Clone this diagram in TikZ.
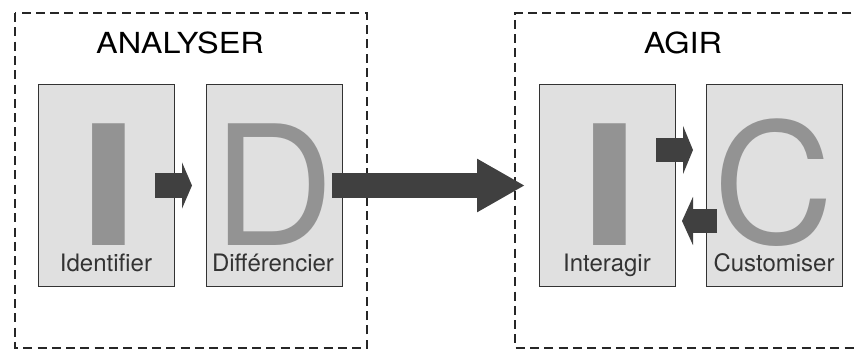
\documentclass[tikz,border=0pt]{standalone}
\usepackage{fontspec}
\setmainfont{TeX Gyre Heros}
\usetikzlibrary{arrows.meta}
\definecolor{boxfill}{HTML}{E0E0E0}
\definecolor{lettergray}{HTML}{939393}
\definecolor{arrowgray}{HTML}{404040}
\begin{document}
\begin{tikzpicture}[x=1pt,y=-1pt,
  group/.style={draw=black!85, dash pattern=on 9pt off 5.3pt, line width=1.8pt},
  stage/.style={draw=black!80, fill=boxfill, line width=1.3pt, minimum width=136pt, minimum height=202pt, inner sep=0pt, anchor=north west},
  bigletter/.style={text=lettergray, font=\fontsize{167}{167}\selectfont, inner sep=0pt, anchor=base, text depth=0pt},
  lab/.style={text=black!80, font=\fontsize{24}{24}\selectfont, inner sep=0pt, anchor=base, text height=17pt},
  title/.style={text=black, font=\fontsize{29}{29}\selectfont, inner sep=0pt, anchor=base},
  blockarrow/.style={draw=arrowgray, line width=#1},
]
\useasboundingbox (0,0) rectangle (857,351);
% groups
\draw[group] (15,13) rectangle (367,348);
\draw[group] (880,13) -- (515,13) -- (515,348) -- (880,348);
\node[title] (tA) at (180,53) {\scalebox{1.12}[1]{ANALYSER}};
\node[title] (tB) at (683,53) {\scalebox{1.12}[1]{AGIR}};
% stages
\node[stage] (S1) at (38,84) {};
\node[stage] (S2) at (206,84) {};
\node[stage] (S3) at (539,84) {};
\node[stage] (S4) at (706,84) {};
% big letters
\node[bigletter] (L1) at (106,245) {\scalebox{2.1}[1]{I}};
\node[bigletter] (L2) at (274,245) {D};
\node[bigletter] (L3) at (607,245) {\scalebox{2.1}[1]{I}};
\node[bigletter] (L4) at (774,243) {C};
% labels
\node[lab] (n1) at (106,271) {Identifier};
\node[lab] (n2) at (273,271) {Différencier};
\node[lab] (n3) at (607,271) {Interagir};
\node[lab] (n4) at (774,271) {Customiser};
% arrow end points
\coordinate (a1s) at (155,185.5);
\coordinate (a1e) at (192,185.5);
\coordinate (a2s) at (332,185.5);
\coordinate (a2e) at (525,185.5);
\coordinate (a3s) at (656,150);
\coordinate (a3e) at (693,150);
\coordinate (a4s) at (717,221);
\coordinate (a4e) at (682,221);
% arrows
\draw[blockarrow=25pt, -{Triangle[length=10pt,width=46pt]}, arrowgray] (a1s) -- (a1e);
\draw[blockarrow=25pt, -{Triangle[length=48pt,width=50pt]}, arrowgray] (a2s) -- (a2e);
\draw[blockarrow=24pt, -{Triangle[length=10pt,width=48pt]}, arrowgray] (a3s) -- (a3e);
\draw[blockarrow=24pt, -{Triangle[length=11pt,width=48pt]}, arrowgray] (a4s) -- (a4e);
\end{tikzpicture}
\end{document}
